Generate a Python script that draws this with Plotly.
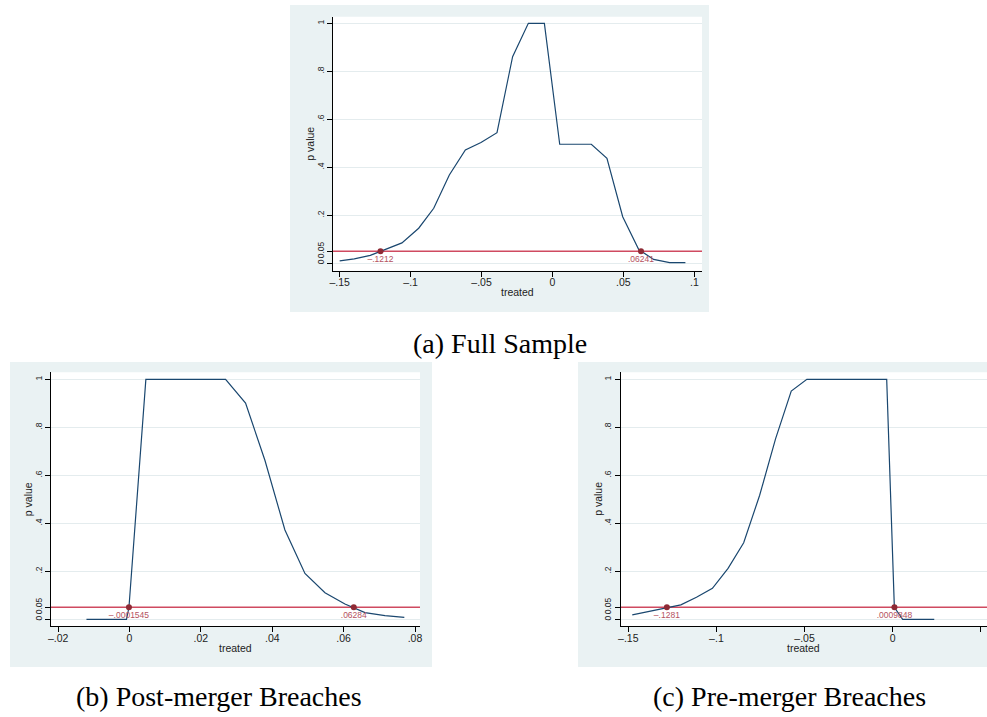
import plotly.graph_objects as go

# ---------------- data ----------------
A_X = [-0.1500, -0.1397, -0.1284, -0.1171, -0.1061, -0.0943, -0.0837, -0.0727, -0.0614,
       -0.0504, -0.0391, -0.0281, -0.0170, -0.0057, 0.0051, 0.0164, 0.0274, 0.0384,
       0.0495, 0.0608, 0.0713, 0.0826, 0.0937]
A_P = [0.010, 0.018, 0.033, 0.058, 0.085, 0.146, 0.229, 0.368, 0.472,
       0.503, 0.544, 0.861, 1.000, 1.000, 0.496, 0.496, 0.496, 0.4375,
       0.194, 0.057, 0.016, 0.003, 0.003]
A_CI = [-0.1212, 0.06241]
A_CI_LABELS = ["\u2013.1212", ".06241"]

B_X = [-0.01206, -0.00645, -0.00084, -0.000155, 0.00458, 0.01009, 0.01570, 0.02131, 0.02692,
       0.03252, 0.03794, 0.04355, 0.04916, 0.05477, 0.06037, 0.06598, 0.07159, 0.07701]
B_P = [0.0, 0.0, 0.0, 0.05, 1.0, 1.0, 1.0, 1.0, 1.0,
       0.901, 0.663, 0.372, 0.191, 0.111, 0.064, 0.028, 0.015, 0.008]
B_CI = [-0.0001545, 0.06284]
B_CI_LABELS = ["\u2013.0001545", ".06284"]

C_X = [-0.14774, -0.13868, -0.12962, -0.12019, -0.11132, -0.10226, -0.09340, -0.08453,
       -0.07547, -0.06642, -0.05755, -0.04868, -0.03962, -0.03057, -0.02170, -0.01264,
       -0.00340, 0.00094, 0.00566, 0.01453, 0.02358]
C_P = [0.018, 0.031, 0.046, 0.060, 0.092, 0.129, 0.212, 0.319,
       0.517, 0.753, 0.951, 1.0, 1.0, 1.0, 1.0, 1.0,
       1.0, 0.05, 0.0, 0.0, 0.0]
C_CI = [-0.1281, 0.0009848]
C_CI_LABELS = ["\u2013.1281", ".0009848"]

THRESHOLD = 0.05

Y_TICKS = [0, 0.05, 0.2, 0.4, 0.6, 0.8, 1]
Y_TICK_LABELS = ["0", "0.05", ".2", ".4", ".6", ".8", "1"]

A_X_TICKS = [-0.15, -0.1, -0.05, 0, 0.05, 0.1]
A_X_TICK_LABELS = ["\u2013.15", "\u2013.1", "\u2013.05", "0", ".05", ".1"]
B_X_TICKS = [-0.02, 0, 0.02, 0.04, 0.06, 0.08]
B_X_TICK_LABELS = ["\u2013.02", "0", ".02", ".04", ".06", ".08"]
C_X_TICKS = [-0.15, -0.1, -0.05, 0, 0.05]
C_X_TICK_LABELS = ["\u2013.15", "\u2013.1", "\u2013.05", "0", ".05"]

X_TITLE = "treated"
Y_TITLE = "p value"
CAPTIONS = ["(a) Full Sample", "(b) Post-merger Breaches", "(c) Pre-merger Breaches"]

# ---------------- layout helpers ----------------
W, H = 987, 717
def fx(px):
    return px / W
def fy(py):
    return 1 - py / H

NAVY = "#1a476f"
RED_LINE = "#cf4a60"
MAROON = "#8e2a35"
LABEL_RED = "#b4525e"
REGION = "#eaf2f3"
GRID = "#e4ecee"
TXT = "#222222"
SANS = "Liberation Sans, Arial, sans-serif"
SERIF = "Liberation Serif, Times New Roman, serif"

panels = [
    dict(x=A_X, p=A_P, ci=A_CI, lab=A_CI_LABELS, xt=A_X_TICKS, xtl=A_X_TICK_LABELS,
         plot=(333, 16.7, 702, 270.7), region=(290, 5, 709, 312),
         xr=[-0.1547, 0.1054], yr=[-0.031, 1.0275], cap=CAPTIONS[0], capxy=(500, 343)),
    dict(x=B_X, p=B_P, ci=B_CI, lab=B_CI_LABELS, xt=B_X_TICKS, xtl=B_X_TICK_LABELS,
         plot=(51, 372.3, 420, 626), region=(10, 362, 432, 667),
         xr=[-0.0220, 0.0814], yr=[-0.028, 1.0295], cap=CAPTIONS[1], capxy=(219, 696)),
    dict(x=C_X, p=C_P, ci=C_CI, lab=C_CI_LABELS, xt=C_X_TICKS, xtl=C_X_TICK_LABELS,
         plot=(620.7, 372.3, 987, 626), region=(578, 362, 987, 667),
         xr=[-0.1543, 0.0535], yr=[-0.028, 1.0295], cap=CAPTIONS[2], capxy=(789, 696)),
]

fig = go.Figure()
shapes = []
annotations = []
layout = dict(
    width=W, height=H,
    margin=dict(l=0, r=0, t=0, b=0),
    paper_bgcolor="white", plot_bgcolor="white",
    showlegend=False,
    font=dict(family=SANS, color=TXT),
)

for i, pn in enumerate(panels):
    n = "" if i == 0 else str(i + 1)
    xa, ya = "x" + n, "y" + n
    x0, y0, x1, y1 = pn["plot"]
    rx0, ry0, rx1, ry1 = pn["region"]

    # grey graph region and white plot region
    shapes.append(dict(type="rect", xref="paper", yref="paper", layer="below",
                       x0=fx(rx0), x1=fx(rx1), y0=fy(ry1), y1=fy(ry0),
                       fillcolor=REGION, line=dict(width=0)))
    shapes.append(dict(type="rect", xref="paper", yref="paper", layer="below",
                       x0=fx(x0), x1=fx(x1), y0=fy(y1), y1=fy(y0),
                       fillcolor="white", line=dict(width=0)))

    # threshold line across the whole axis range
    fig.add_trace(go.Scatter(x=pn["xr"], y=[THRESHOLD, THRESHOLD], mode="lines",
                             line=dict(color=RED_LINE, width=1.5),
                             xaxis=xa, yaxis=ya, hoverinfo="skip", cliponaxis=True))
    fig.add_trace(go.Scatter(x=pn["x"], y=pn["p"], mode="lines",
                             line=dict(color=NAVY, width=1.2),
                             xaxis=xa, yaxis=ya, hoverinfo="skip"))
    fig.add_trace(go.Scatter(x=pn["ci"], y=[THRESHOLD] * len(pn["ci"]),
                             mode="markers+text", text=pn["lab"],
                             textposition="bottom center",
                             textfont=dict(family=SANS, size=8.5, color=LABEL_RED),
                             marker=dict(color=MAROON, size=6),
                             xaxis=xa, yaxis=ya, hoverinfo="skip", cliponaxis=False))

    layout["xaxis" + n] = dict(
        domain=[fx(x0), fx(x1)], anchor=ya, range=pn["xr"],
        tickmode="array", tickvals=pn["xt"], ticktext=pn["xtl"],
        ticks="outside", ticklen=5, tickwidth=1, tickcolor="black",
        showline=True, linecolor="black", linewidth=1.2,
        showgrid=False, zeroline=False, ticklabelstandoff=-3,
        tickfont=dict(family=SANS, size=10.5, color=TXT),
        automargin=False,
    )
    layout["yaxis" + n] = dict(
        domain=[fy(y1), fy(y0)], anchor=xa, range=pn["yr"],
        tickmode="array", tickvals=Y_TICKS, ticktext=Y_TICK_LABELS, tickangle=-90,
        ticks="outside", ticklen=5, tickwidth=1, tickcolor="black",
        showline=True, linecolor="black", linewidth=1.2,
        showgrid=True, gridcolor=GRID, gridwidth=1, zeroline=False,
        tickfont=dict(family=SANS, size=8.5, color=TXT),
        automargin=False,
    )

    # axis titles
    annotations.append(dict(text=X_TITLE, xref="paper", yref="paper",
                            x=fx((x0 + x1) / 2), y=fy(y1 + 21.5),
                            xanchor="center", yanchor="middle",
                            showarrow=False, font=dict(family=SANS, size=10.5, color=TXT)))
    annotations.append(dict(text=Y_TITLE, xref="paper", yref="paper",
                            x=fx(x0 - 23), y=fy((y0 + y1) / 2), textangle=-90,
                            xanchor="center", yanchor="middle",
                            showarrow=False, font=dict(family=SANS, size=10.5, color=TXT)))

    cx, cy = pn["capxy"]
    annotations.append(dict(text=pn["cap"], xref="paper", yref="paper",
                            x=fx(cx), y=fy(cy), xanchor="center", yanchor="middle",
                            showarrow=False, font=dict(family=SERIF, size=28, color="black")))

layout["shapes"] = shapes
layout["annotations"] = annotations
fig.update_layout(**layout)
fig.write_html("out.html")
